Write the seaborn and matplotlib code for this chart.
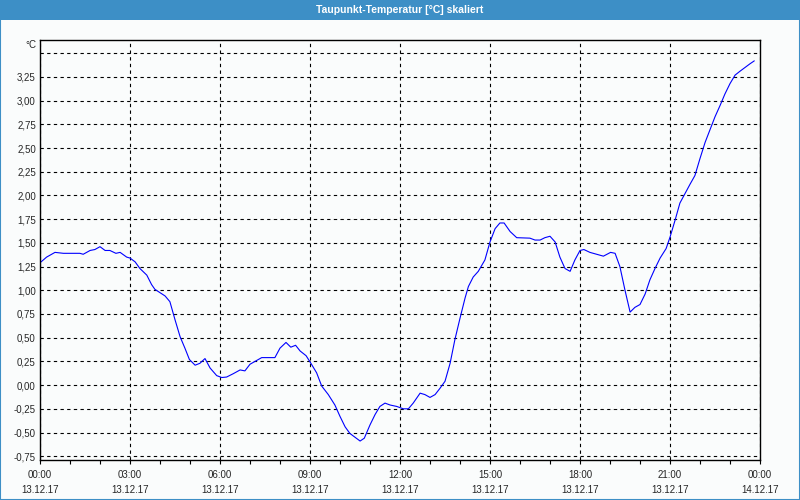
import matplotlib
matplotlib.use("Agg")
import matplotlib.pyplot as plt
from matplotlib.patches import Rectangle
from matplotlib.ticker import FixedLocator, MultipleLocator
import seaborn as sns
import pandas as pd

# time in hours since 13.12.17 00:00
hours = [0.00, 0.22, 0.50, 0.78, 1.33, 1.44, 1.67, 1.83, 2.00, 2.17, 2.33, 2.53, 2.67, 2.89,
         3.00, 3.17, 3.33, 3.56, 3.72, 3.83, 4.00, 4.17, 4.33, 4.50, 4.67, 4.83, 4.98, 5.17,
         5.33, 5.50, 5.67, 5.89, 6.06, 6.22, 6.44, 6.67, 6.83, 7.00, 7.22, 7.39, 7.83, 8.00,
         8.20, 8.36, 8.52, 8.67, 8.87, 9.03, 9.22, 9.39, 9.61, 9.83, 10.00, 10.17, 10.33,
         10.56, 10.67, 10.81, 11.00, 11.17, 11.33, 11.50, 11.67, 11.89, 12.11, 12.28, 12.44,
         12.67, 12.83, 13.00, 13.17, 13.33, 13.50, 13.67, 13.83, 14.00, 14.17, 14.28, 14.44,
         14.61, 14.83, 15.00, 15.17, 15.33, 15.47, 15.67, 15.89, 16.33, 16.50, 16.67, 16.83,
         17.00, 17.17, 17.33, 17.50, 17.67, 17.83, 18.00, 18.13, 18.33, 18.56, 18.78, 19.02,
         19.17, 19.33, 19.50, 19.67, 19.83, 20.00, 20.17, 20.33, 20.50, 20.67, 20.87, 21.00,
         21.17, 21.33, 21.50, 21.67, 21.83, 22.00, 22.17, 22.33, 22.50, 22.67, 22.83, 23.00,
         23.17, 23.33, 23.50, 23.67, 23.81]
dewpoint = [1.29, 1.35, 1.40, 1.39, 1.39, 1.38, 1.42, 1.43, 1.46, 1.42, 1.42, 1.39, 1.40, 1.35,
            1.34, 1.30, 1.23, 1.16, 1.06, 1.01, 0.975, 0.94, 0.88, 0.69, 0.51, 0.39, 0.27, 0.21,
            0.23, 0.28, 0.18, 0.10, 0.08, 0.085, 0.12, 0.16, 0.15, 0.22, 0.26, 0.29, 0.29, 0.39,
            0.45, 0.40, 0.42, 0.36, 0.31, 0.23, 0.13, -0.01, -0.10, -0.21, -0.33, -0.44, -0.51,
            -0.565, -0.59, -0.56, -0.42, -0.31, -0.225, -0.19, -0.21, -0.225, -0.25, -0.25, -0.19,
            -0.085, -0.10, -0.13, -0.10, -0.035, 0.04, 0.23, 0.48, 0.705, 0.92, 1.04, 1.14,
            1.20, 1.32, 1.51, 1.65, 1.71, 1.71, 1.62, 1.555, 1.55, 1.53, 1.53, 1.555,
            1.57, 1.51, 1.35, 1.23, 1.20, 1.32, 1.42, 1.43, 1.40, 1.38, 1.36, 1.40,
            1.39, 1.25, 1.00, 0.77, 0.82, 0.85, 0.96, 1.11, 1.23, 1.34, 1.44, 1.56,
            1.74, 1.92, 2.02, 2.12, 2.21, 2.39, 2.56, 2.69, 2.83, 2.95, 3.07, 3.18,
            3.27, 3.31, 3.35, 3.39, 3.42]

x_tick_hours = [0, 3, 6, 9, 12, 15, 18, 21, 24]
x_tick_labels = ["00:00\n13.12.17", "03:00\n13.12.17", "06:00\n13.12.17", "09:00\n13.12.17",
                 "12:00\n13.12.17", "15:00\n13.12.17", "18:00\n13.12.17", "21:00\n13.12.17",
                 "00:00\n14.12.17"]
y_ticks = [-0.75, -0.5, -0.25, 0.0, 0.25, 0.5, 0.75, 1.0, 1.25, 1.5, 1.75, 2.0, 2.25, 2.5,
           2.75, 3.0, 3.25, 3.5]
y_tick_labels = ["-0,75", "-0,50", "-0,25", "0,00", "0,25", "0,50", "0,75", "1,00", "1,25",
                 "1,50", "1,75", "2,00", "2,25", "2,50", "2,75", "3,00", "3,25", ""]
title = "Taupunkt-Temperatur [°C] skaliert"
unit = "°C"

df = pd.DataFrame({"h": hours, "v": dewpoint})

sns.set_style("white")
plt.rcParams["font.family"] = ["Liberation Sans", "DejaVu Sans"]

bg = "#fafcfc"
blue = "#3d8fc6"
fig = plt.figure(figsize=(8, 5), dpi=100, facecolor=bg)
ax = fig.add_axes([0.05, 0.08, 0.90, 0.84])
ax.set_facecolor(bg)

sns.lineplot(data=df, x="h", y="v", ax=ax, color="#0000ff", linewidth=0.8)

ax.set_xlim(0, 24)
ax.set_ylim(-0.79, 3.64)

ax.xaxis.set_major_locator(FixedLocator(x_tick_hours))
ax.set_xticklabels(x_tick_labels)
ax.xaxis.set_minor_locator(MultipleLocator(1))
ax.tick_params(axis="x", which="both", direction="out", length=3, width=0.8,
               color="black", labelsize=7, pad=4, bottom=True)
for lbl in ax.get_xticklabels():
    lbl.set_linespacing(1.6)

ax.yaxis.set_major_locator(FixedLocator(y_ticks))
ax.set_yticklabels(y_tick_labels)
ax.tick_params(axis="y", which="both", length=0, labelsize=7, pad=3)

ax.grid(True, which="major", color="black", linestyle=(0, (3, 3)), linewidth=0.8)
ax.set_axisbelow(True)

for s in ax.spines.values():
    s.set_visible(True)
    s.set_color("black")
    s.set_linewidth(1.0)

ax.set_xlabel("")
ax.set_ylabel("")

ax.text(-0.005, 1.0, unit, transform=ax.transAxes, ha="right", va="top", fontsize=7)

# title bar and frame
fig.patches.append(Rectangle((0, 1 - 20 / 500), 1, 20 / 500, transform=fig.transFigure,
                             facecolor=blue, edgecolor="none", zorder=0))
fig.patches.append(Rectangle((0.0006, 0.001), 0.9988, 0.998, transform=fig.transFigure,
                             facecolor="none", edgecolor=blue, linewidth=1.5, zorder=1))
fig.text(0.5, 1 - 10 / 500, title, ha="center", va="center", color="white",
         fontsize=7.5, fontweight="bold")

fig.savefig("out.png", dpi=100, facecolor=bg)
